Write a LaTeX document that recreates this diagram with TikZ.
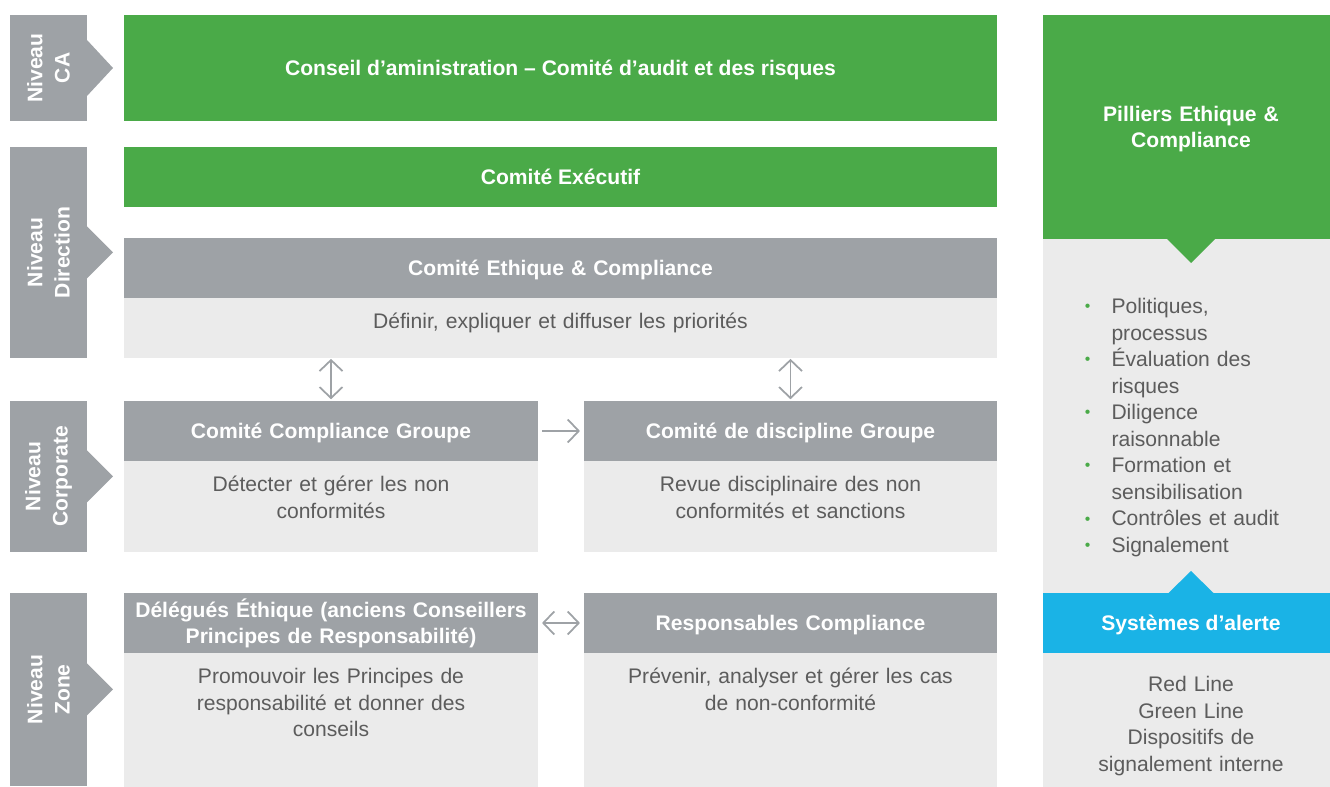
\documentclass[tikz,border=0pt]{standalone}
\usepackage{fontspec}
\setmainfont{Liberation Sans}
\usetikzlibrary{arrows.meta,calc,positioning}

\definecolor{cagreen}{HTML}{4AAA48}
\definecolor{hdgray}{HTML}{9EA2A6}
\definecolor{bdgray}{HTML}{EBEBEB}
\definecolor{txgray}{HTML}{5C5C5C}
\definecolor{alertblue}{HTML}{1AB3E6}

\newcommand{\pbullet}{\leavevmode\llap{\textcolor{cagreen}{\raisebox{1pt}{\small\textbullet}}\hspace{0.42cm}}}

\tikzset{
  base/.style={inner sep=0pt, outer sep=0pt, align=center,
    font=\fontsize{12}{15.1}\selectfont},
  bold/.style={font=\fontsize{12}{15.1}\selectfont\bfseries, text=white,
    text height=9pt, text depth=0pt},
  twolines/.style={text depth=15.5pt},
  level/.style={base, bold, fill=hdgray, rotate=90, minimum height=1.54cm,
    font=\fontsize{12}{15.5}\selectfont\bfseries, text height=, text depth=},
  greenbox/.style={base, bold, fill=cagreen, anchor=north west, minimum width=17.46cm},
  header/.style={base, bold, fill=hdgray, anchor=north west, minimum height=1.2cm},
  panel/.style={base, fill=bdgray, anchor=north west},
  bodytext/.style={base, text=txgray, anchor=base},
  link/.style={hdgray, line width=1pt, >={Straight Barb[length=2.2mm, width=4.6mm]}},
}

\begin{document}
\begin{tikzpicture}

  \useasboundingbox (0,0) rectangle (26.6,-15.74);

  %% ---- level labels ----
  \node[level, minimum width=2.12cm] (lvlca) at (0.97,-1.36) {Niveau\\CA};
  \node[level, minimum width=4.22cm] (lvldir) at (0.97,-5.05) {Niveau\\Direction};
  \node[level, minimum width=3.02cm] (lvlcorp) at (0.97,-9.53) {Niveau\\Corporate};
  \node[level, minimum width=3.86cm] (lvlzone) at (0.97,-13.79) {Niveau\\Zone};

  %% label tips
  \fill[hdgray] ($(lvlca.south)+(0,0.56)$) -- ($(lvlca.south)+(0.52,0)$) -- ($(lvlca.south)+(0,-0.56)$) -- cycle;
  \fill[hdgray] ($(lvldir.south)+(0,0.52)$) -- ($(lvldir.south)+(0.52,0)$) -- ($(lvldir.south)+(0,-0.52)$) -- cycle;
  \fill[hdgray] ($(lvlcorp.south)+(0,0.52)$) -- ($(lvlcorp.south)+(0.52,0)$) -- ($(lvlcorp.south)+(0,-0.52)$) -- cycle;
  \fill[hdgray] ($(lvlzone.south)+(0,0.52)$) -- ($(lvlzone.south)+(0.52,0)$) -- ($(lvlzone.south)+(0,-0.52)$) -- cycle;

  %% ---- CA and direction ----
  \node[greenbox, minimum height=2.12cm] (board) at (2.48,-0.3)
    {Conseil d’aministration – Comité d’audit et des risques};
  \node[greenbox, minimum height=1.2cm] (exec) at (2.48,-2.94) {Comité Exécutif};

  \node[header, text width=17.46cm] (ethics) at (2.48,-4.76) {Comité Ethique \& Compliance};
  \node[panel, minimum width=17.46cm, minimum height=1.2cm] (ethicsb) at (ethics.south west) {};
  \node[bodytext, text width=17.46cm] (ethicst) at ($(ethicsb.north)+(0,-0.61)$)
    {Définir, expliquer et diffuser les priorités};

  %% ---- corporate ----
  \node[header, text width=8.28cm] (ccg) at (2.48,-8.02) {Comité Compliance Groupe};
  \node[panel, minimum width=8.28cm, minimum height=1.82cm] (ccgb) at (ccg.south west) {};
  \node[bodytext, text width=8.28cm] (ccgt) at ($(ccgb.north)+(0,-0.62)$)
    {Détecter et gérer les non\\conformités};

  \node[header, text width=8.26cm] (cdg) at (11.68,-8.02) {Comité de discipline Groupe};
  \node[panel, minimum width=8.26cm, minimum height=1.82cm] (cdgb) at (cdg.south west) {};
  \node[bodytext, text width=8.26cm] (cdgt) at ($(cdgb.north)+(0,-0.62)$)
    {Revue disciplinaire des non\\conformités et sanctions};

  %% ---- zone ----
  \node[header, twolines, text width=8.28cm] (dlg) at (2.48,-11.86)
    {Délégués Éthique (anciens Conseillers\\Principes de Responsabilité)};
  \node[panel, minimum width=8.28cm, minimum height=2.68cm] (dlgb) at (dlg.south west) {};
  \node[bodytext, text width=8.28cm] (dlgt) at ($(dlgb.north)+(0,-0.61)$)
    {Promouvoir les Principes de\\responsabilité et donner des\\conseils};

  \node[header, text width=8.26cm] (rsp) at (11.68,-11.86) {Responsables Compliance};
  \node[panel, minimum width=8.26cm, minimum height=2.68cm] (rspb) at (rsp.south west) {};
  \node[bodytext, text width=8.26cm] (rspt) at ($(rspb.north)+(0,-0.61)$)
    {Prévenir, analyser et gérer les cas\\de non-conformité};

  %% links
  \draw[link, <->, shorten <=0.5pt, shorten >=1pt] (ccg.north |- ethicsb.south) -- (ccg.north);
  \draw[link, <->, shorten <=0.5pt, shorten >=1pt] (cdg.north |- ethicsb.south) -- (cdg.north);
  \draw[link, ->, shorten <=2.3pt, shorten >=2.3pt] (ccg) -- (cdg);
  \draw[link, <->, shorten <=2.3pt, shorten >=2.3pt] (dlg) -- (rsp);

  %% ---- right column ----
  \fill[bdgray] (20.86,-4.78) rectangle (26.78,-15.74);

  \node[base, bold, twolines, fill=cagreen, anchor=north west, minimum width=5.92cm, minimum height=4.48cm, text width=5.92cm]
    (pillars) at (20.86,-0.3) {Pilliers Ethique \&\\Compliance};
  \fill[cagreen] ($(pillars.south)+(-0.48,0)$) -- ($(pillars.south)+(0,-0.48)$) -- ($(pillars.south)+(0.48,0)$) -- cycle;

  \node[base, text=txgray, anchor=base west, align=left, text width=4.3cm] (pillist) at (22.23,-6.27)
    {\pbullet Politiques,\\processus\\
     \pbullet Évaluation des\\risques\\
     \pbullet Diligence\\raisonnable\\
     \pbullet Formation et\\sensibilisation\\
     \pbullet Contrôles et audit\\
     \pbullet Signalement};

  \node[base, bold, fill=alertblue, anchor=north west, minimum width=5.92cm, minimum height=1.2cm]
    (alert) at (20.86,-11.86) {Systèmes d’alerte};
  \fill[alertblue] ($(alert.north)+(-0.45,0)$) -- ($(alert.north)+(0,0.44)$) -- ($(alert.north)+(0.45,0)$) -- cycle;

  \node[bodytext, text width=5.92cm] (alertt) at (23.82,-13.83)
    {Red Line\\Green Line\\Dispositifs de\\signalement interne};

\end{tikzpicture}
\end{document}
